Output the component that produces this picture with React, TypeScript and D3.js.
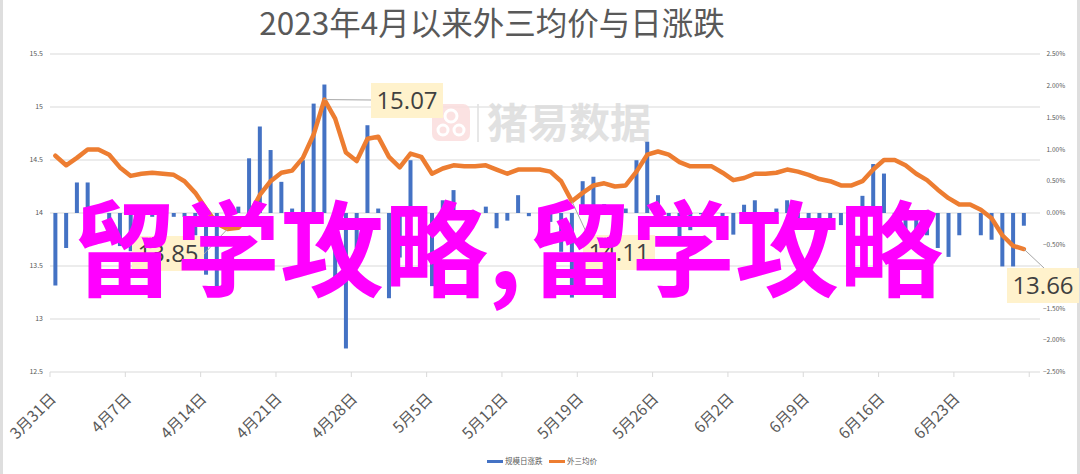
import React from "react";
import * as d3 from "d3";

const W = 1080;
const H = 474;

const titleText = "2023年4月以来外三均价与日涨跌";
const seriesNames = ["规模日涨跌", "外三均价"];
const startDay = "2023-03-31";
const tickLabels = ["3月31日", "4月7日", "4月14日", "4月21日", "4月28日", "5月5日", "5月12日", "5月19日", "5月26日", "6月2日", "6月9日", "6月16日", "6月23日"];
const leftTicks = [12.5, 13, 13.5, 14, 14.5, 15, 15.5];
const rightTicks = [-0.025, -0.02, -0.015, -0.01, -0.005, 0, 0.005, 0.01, 0.015, 0.02, 0.025];

// 外三均价 (left axis)
const priceValues = [
  14.54, 14.45, 14.52, 14.6, 14.6, 14.55, 14.43, 14.35, 14.37, 14.38,
  14.37, 14.36, 14.3, 14.19, 14.04, 13.9, 13.85, 13.86, 13.98, 14.17,
  14.3, 14.38, 14.4, 14.52, 14.74, 15.07, 14.89, 14.57, 14.49, 14.7,
  14.72, 14.53, 14.43, 14.56, 14.53, 14.37, 14.42, 14.45, 14.44, 14.44,
  14.45, 14.41, 14.37, 14.41, 14.41, 14.41, 14.39, 14.3, 14.11, 14.19,
  14.26, 14.28, 14.25, 14.26, 14.39, 14.55, 14.58, 14.55, 14.48, 14.44,
  14.44, 14.44, 14.38, 14.31, 14.33, 14.37, 14.37, 14.38, 14.41, 14.39,
  14.36, 14.32, 14.3, 14.26, 14.26, 14.3, 14.41, 14.5, 14.5, 14.45,
  14.37, 14.31, 14.22, 14.14, 14.08, 14.08, 14.03, 13.95, 13.79, 13.69,
  13.66,
];

// 规模日涨跌 in percent (right axis)
const changeValues = [
  -1.14, -0.55, 0.48, 0.48, 0, -0.4, -0.52, -0.6, 0.05, -0.06,
  -0.06, -0.06, -0.06, -0.35, -0.97, -1.15, -0.15, 0.1, 0.86, 1.36,
  0.99, 0.49, 0.07, 0.83, 1.72, 2.02, -1.18, -2.13, -0.55, 1.38,
  0.07, -1.34, -0.7, 0.83, -0.2, -1.15, 0.2, 0.36, -0.08, 0.02,
  0.1, -0.24, -0.12, 0.28, -0.05, 0, -0.14, -0.61, -1.33, 0.5,
  0.57, 0.14, -0.14, 0.07, 0.83, 1.12, 0.28, -0.2, -0.48, -0.27,
  -0.02, 0, -0.14, -0.34, 0.13, 0.2, 0, 0.07, 0.2, -0.1,
  -0.09, -0.14, -0.14, -0.19, 0, 0.27, 0.77, 0.62, -0.02, -0.35,
  -0.4, -0.35, -0.55, -0.69, -0.35, 0, -0.35, -0.42, -0.84, -0.84,
  -0.2,
];

// indices of the labelled points on the price line
const labelledPoints = [25, 16, 48, 90];

const overlayText = ["留学攻略,", "留学攻略"];
const watermarkText = "猪易数据";

const GRAY = "#595959";
const BLUE = "#4472C4";
const ORANGE = "#ED7D31";
const CJK = "'Noto Sans CJK SC', 'Noto Sans', sans-serif";

export default function App() {
  const plotL = 50, plotR = 1040, plotT = 54, plotB = 372;
  const start = new Date(startDay + "T00:00:00Z");
  const dates = d3.utcDay.range(start, d3.utcDay.offset(start, priceValues.length));
  const end = d3.utcDay.offset(start, priceValues.length + 1);

  const x = d3.scaleUtc().domain([start, end]).range([plotL, plotR]);
  const slot = x(d3.utcDay.offset(start, 1)) - x(start);
  const cx = (i: number) => x(dates[i]) + slot / 2;
  const yL = d3.scaleLinear().domain([12.5, 15.5]).range([plotB, plotT]);
  const yR = d3.scaleLinear().domain([-0.025, 0.025]).range([plotB, plotT]);
  const weekTicks = d3.utcFriday.range(start, d3.utcDay.offset(end, 1));

  const line = d3
    .line<number>()
    .x((_, i) => cx(i))
    .y((v) => yL(v))
    .curve(d3.curveLinear);

  const barW = 4;
  const fmtR = d3.format(".2%");
  const fmtL = (v: number) => String(v);
  const fmtLabel = d3.format(".2f");

  const labelBoxes: Record<number, { bx: number; by: number; lx: number; ly: number }> = {
    25: { bx: 371, by: 83, lx: 372, ly: 100 },
    16: { bx: 132, by: 236, lx: 203, ly: 255 },
    48: { bx: 583, by: 235, lx: 588, ly: 236 },
    90: { bx: 1007, by: 268, lx: 1044, ly: 268 },
  };
  const boxW = 72, boxH = 35;

  return (
    <svg
      width={W}
      height={H}
      viewBox={`0 0 ${W} ${H}`}
      style={{ position: "absolute", left: 0, top: 0, background: "#fff" }}
    >
      <rect x={0} y={0} width={W} height={H} fill="#fff" />
      <rect x={0} y={0} width={3} height={H} fill="#dedede" />
      <rect x={W - 3} y={0} width={3} height={H} fill="#dedede" />

      <text x={492} y={35} textAnchor="middle" fontFamily={CJK} fontSize={31.5} fill={GRAY}>
        {titleText}
      </text>

      {leftTicks.slice(1).map((t) => (
        <line key={t} x1={plotL} x2={plotR} y1={yL(t)} y2={yL(t)} stroke="#d9d9d9" strokeWidth={1} />
      ))}
      <line x1={plotL} x2={plotR} y1={plotB} y2={plotB} stroke="#d9d9d9" strokeWidth={1} />
      {weekTicks.map((d, i) => (
        <line key={i} x1={x(d)} x2={x(d)} y1={plotB} y2={plotB + 5} stroke="#d9d9d9" strokeWidth={1} />
      ))}

      {leftTicks.map((t) => (
        <text key={t} x={43} y={yL(t)} dy="0.35em" textAnchor="end" fontFamily={CJK} fontSize={7} fill={GRAY}>
          {fmtL(t)}
        </text>
      ))}
      {rightTicks.map((t) => (
        <text
          key={t}
          x={t < 0 ? 1043 : 1046.5}
          y={yR(t)}
          dy="0.35em"
          textAnchor="start"
          fontFamily={CJK}
          fontSize={6.5}
          fill={GRAY}
        >
          {fmtR(t)}
        </text>
      ))}

      {tickLabels.map((lab, i) => {
        const tx = x(weekTicks[i]);
        return (
          <text
            key={lab}
            transform={`translate(${tx + 3},${396}) rotate(-45)`}
            textAnchor="end"
            dy="0.35em"
            fontFamily={CJK}
            fontSize={15.5}
            fill={GRAY}
          >
            {lab}
          </text>
        );
      })}

      <g opacity={0.85}>
        <rect x={432} y={104} width={38} height={37} rx={7} fill="#fbdede" />
        <circle cx={451} cy={116} r={6} fill="none" stroke="#fff" strokeWidth={3} />
        <circle cx={443} cy={130} r={5} fill="none" stroke="#fff" strokeWidth={3} />
        <circle cx={459} cy={130} r={5} fill="none" stroke="#fff" strokeWidth={3} />
        <line x1={478} x2={478} y1={104} y2={142} stroke="#e3e3e3" strokeWidth={2} />
        <text x={487} y={138} fontFamily={CJK} fontWeight={700} fontSize={41} fill="#dcdcdc">
          {watermarkText}
        </text>
      </g>

      {changeValues.map((v, i) => {
        const y0 = yR(0);
        const y1 = yR(v / 100);
        return (
          <rect
            key={i}
            x={cx(i) - barW / 2}
            y={Math.min(y0, y1)}
            width={barW}
            height={Math.abs(y1 - y0)}
            fill={BLUE}
          />
        );
      })}

      <path
        d={line(priceValues) || ""}
        fill="none"
        stroke={ORANGE}
        strokeWidth={4.5}
        strokeLinejoin="round"
        strokeLinecap="round"
      />

      {labelledPoints.map((i) => {
        const b = labelBoxes[i];
        return (
          <g key={i}>
            <line x1={cx(i)} y1={yL(priceValues[i])} x2={b.lx} y2={b.ly} stroke="#a6a6a6" strokeWidth={1} />
            <rect x={b.bx} y={b.by} width={boxW} height={boxH} fill="#FFF2CC" />
            <text
              x={b.bx + boxW / 2}
              y={b.by + boxH / 2}
              dy="0.36em"
              textAnchor="middle"
              fontFamily="'Open Sans', 'Noto Sans', sans-serif"
              fontSize={24}
              fill="#404040"
            >
              {fmtLabel(priceValues[i])}
            </text>
          </g>
        );
      })}

      <text x={72} y={289} fontFamily={CJK} fontWeight={700} fontSize={104} fill="#FF00FF">
        {overlayText[0]}
      </text>
      <text x={527} y={289} fontFamily={CJK} fontWeight={700} fontSize={104} fill="#FF00FF">
        {overlayText[1]}
      </text>

      <rect x={487} y={460} width={16} height={3} fill={BLUE} />
      <text x={505} y={461.5} dy="0.35em" fontFamily={CJK} fontSize={7.5} fill={GRAY}>
        {seriesNames[0]}
      </text>
      <rect x={549} y={460} width={16} height={3} fill={ORANGE} />
      <text x={567} y={461.5} dy="0.35em" fontFamily={CJK} fontSize={7.5} fill={GRAY}>
        {seriesNames[1]}
      </text>
    </svg>
  );
}
